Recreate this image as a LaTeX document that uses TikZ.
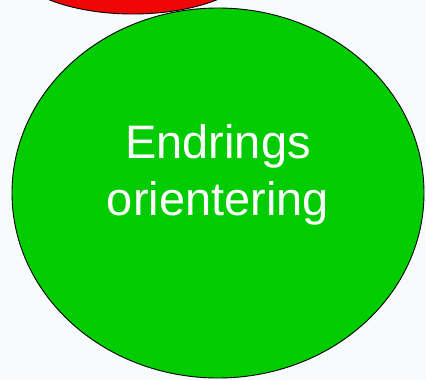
\documentclass[tikz,border=0pt]{standalone}
\usepackage{fontspec}
\setmainfont{Liberation Sans}
\usetikzlibrary{shapes.geometric}
\definecolor{bgblue}{RGB}{247,251,254}
\definecolor{changegreen}{RGB}{0,204,0}
\definecolor{topred}{RGB}{240,6,6}
\tikzset{
    blob/.style={ellipse, draw=black, line width=0.9pt, inner sep=0pt},
}
\begin{document}
\begin{tikzpicture}[x=1pt, y=-1pt]
        % Background
        \fill[bgblue] (0,0) rectangle (426,380);
        \useasboundingbox (0,0) rectangle (426,380);

        % Red blob, cut off at the top
        \begin{scope}
            \clip (0,0) rectangle (426,380);
            \node[blob, fill=topred, minimum width=248pt, minimum height=108pt] (top) at (133,-40) {};
        \end{scope}

        % Green blob
        \node[blob, fill=changegreen, minimum width=412pt, minimum height=370pt] (change) at (218,193) {};
        \node[text=white, align=center, font=\fontsize{47}{57}\selectfont] (changetext)
            at ([yshift=18pt]change.center) {Endrings\\orientering};

    \end{tikzpicture}
\end{document}
